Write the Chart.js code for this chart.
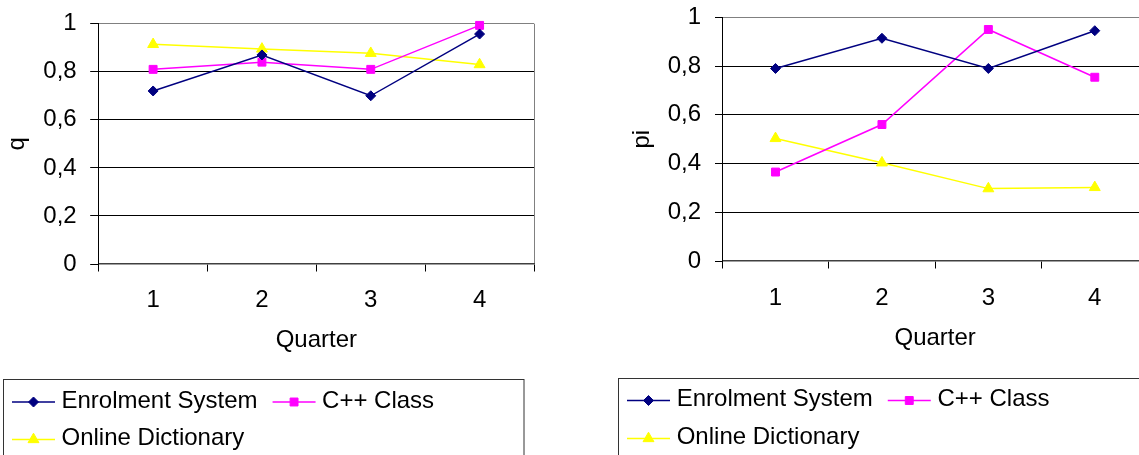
<!DOCTYPE html>
<html><head><meta charset="utf-8">
<script src="https://cdn.jsdelivr.net/npm/chart.js"></script>
<style>
html,body{margin:0;padding:0;background:#fff;overflow:hidden;width:1139px;height:455px;position:relative;}
#c1{position:absolute;left:0;top:0;}
#c2{position:absolute;left:570px;top:0;}
</style></head><body>
<canvas id="c1" width="570" height="455"></canvas>
<canvas id="c2" width="620" height="455"></canvas>
<script>
// ---- data ----
const quarters = ['1', '2', '3', '4'];
const seriesNames = ['Enrolment System', 'C++ Class', 'Online Dictionary'];
const yTickLabels = ['0', '0,2', '0,4', '0,6', '0,8', '1'];
const xTitle = 'Quarter';
const qTitle = 'q';
const piTitle = 'pi';
const qEnrolment = [0.72, 0.87, 0.70, 0.957];
const qCpp = [0.81, 0.84, 0.81, 0.993];
const qDictionary = [0.914, 0.895, 0.877, 0.83];
const piEnrolment = [0.79, 0.914, 0.79, 0.945];
const piCpp = [0.365, 0.56, 0.95, 0.754];
const piDictionary = [0.503, 0.403, 0.297, 0.302];

// ---- styles ----
const FONT = {family: "'Liberation Sans', Arial, sans-serif", size: 24};
const seriesStyle = [
  {color: '#000080', pointStyle: 'rectRot', radius: 5},
  {color: '#FF00FF', pointStyle: 'rect', radius: 5.6},
  {color: '#FFFF00', pointStyle: 'triangle', radius: 6.3}
];

const boxLegend = {
  id: 'boxLegend',
  afterDraw(chart, args, o) {
    const ctx = chart.ctx;
    ctx.save();
    ctx.strokeStyle = '#333';
    ctx.lineWidth = 1;
    ctx.strokeRect(o.left, o.top, o.right - o.left, 200);
    ctx.font = "24px 'Liberation Sans', Arial, sans-serif";
    ctx.textBaseline = 'middle';
    ctx.textAlign = 'left';
    let x = o.startX;
    chart.data.datasets.forEach((ds, i) => {
      const row = o.itemRows[i];
      if (i > 0 && row !== o.itemRows[i - 1]) x = o.startX;
      const y = o.rowY[row];
      ctx.strokeStyle = ds.borderColor;
      ctx.lineWidth = ds.borderWidth;
      ctx.beginPath();
      ctx.moveTo(x, y);
      ctx.lineTo(x + o.symbolWidth, y);
      ctx.stroke();
      ctx.fillStyle = ds.pointBackgroundColor;
      ctx.strokeStyle = ds.pointBorderColor;
      ctx.lineWidth = 1;
      Chart.helpers.drawPoint(ctx, {pointStyle: ds.pointStyle, radius: ds.pointRadius, rotation: 0, borderWidth: 1}, x + o.symbolWidth / 2, y);
      ctx.fillStyle = '#000';
      const tx = x + o.symbolWidth + o.textGap;
      ctx.fillText(ds.label, tx, y + o.textDy);
      x = tx + ctx.measureText(ds.label).width + o.itemGap;
    });
    ctx.restore();
  }
};

function makeChart(id, seriesValues, yTitle, L) {
  return new Chart(document.getElementById(id), {
    type: 'line',
    data: {
      labels: quarters,
      datasets: seriesValues.map((vals, i) => ({
        label: seriesNames[i],
        data: vals,
        borderColor: seriesStyle[i].color,
        backgroundColor: seriesStyle[i].color,
        pointBackgroundColor: seriesStyle[i].color,
        pointBorderColor: seriesStyle[i].color,
        pointStyle: seriesStyle[i].pointStyle,
        pointRadius: seriesStyle[i].radius,
        pointBorderWidth: 1,
        borderWidth: 1.5,
        tension: 0,
        fill: false,
        clip: false
      }))
    },
    options: {
      responsive: false,
      animation: false,
      events: [],
      layout: {padding: {left: 0, top: L.top, right: L.right, bottom: L.bottom}},
      plugins: {legend: {display: false}, tooltip: {enabled: false}, boxLegend: L.legend},
      scales: {
        x: {
          type: 'category',
          offset: true,
          grid: {
            offset: true,
            color: c => c.type === 'tick' ? 'rgba(0,0,0,0)' : '#808080',
            tickColor: '#000',
            tickLength: L.xTickLen,
            lineWidth: 1
          },
          border: {display: true, color: '#404040', width: 1.5},
          ticks: {color: '#000', font: FONT, padding: L.xTickPad, maxRotation: 0, autoSkip: false},
          title: {display: true, text: xTitle, color: '#000', font: FONT, padding: {top: 0, bottom: 0}},
          afterFit: s => { s.height = L.xHeight; s.paddingLeft = 0; s.paddingRight = 0; }
        },
        y: {
          min: 0,
          max: 1,
          ticks: {
            stepSize: 0.2,
            color: '#000',
            font: FONT,
            padding: L.yTickPad,
            callback: v => yTickLabels[Math.round(v / 0.2)]
          },
          grid: {
            color: c => {
              const v = c.tick ? c.tick.value : -1;
              if (Math.abs(v - 1) < 1e-6) return '#808080';
              if (Math.abs(v) < 1e-6) return 'rgba(0,0,0,0)';
              return '#000';
            },
            tickColor: '#000',
            tickLength: L.yTickLen,
            lineWidth: 1
          },
          border: {display: true, color: '#000', width: 1},
          title: {display: true, text: yTitle, color: '#000', font: FONT, padding: {top: L.yTitlePad, bottom: 0}},
          afterFit: s => { s.width = L.yWidth; s.paddingTop = 0; s.paddingBottom = 0; }
        }
      }
    },
    plugins: [boxLegend]
  });
}

makeChart('c1', [qEnrolment, qCpp, qDictionary], qTitle, {
  top: 23.7, right: 36, bottom: 100.6,
  xHeight: 90.4, xTickLen: 7.5, xTickPad: 14,
  yWidth: 98.7, yTickLen: 8.5, yTickPad: 13.5, yTitlePad: 3.2,
  legend: {left: 3.5, top: 379.5, right: 524, startX: 12, rowY: [402, 439.5], itemRows: [0, 0, 1],
           symbolWidth: 43, textGap: 6.5, itemGap: 15, textDy: -1}
});

makeChart('c2', [piEnrolment, piCpp, piDictionary], piTitle, {
  top: 17.3, right: 42, bottom: 102.3,
  xHeight: 91.7, xTickLen: 7.5, xTickPad: 15,
  yWidth: 152.3, yTickLen: 7.3, yTickPad: 14, yTitlePad: 58.3,
  legend: {left: 48.5, top: 378.5, right: 700, startX: 57, rowY: [400.5, 438.5], itemRows: [0, 0, 1],
           symbolWidth: 43, textGap: 6.7, itemGap: 15, textDy: -1}
});
</script>
</body></html>
